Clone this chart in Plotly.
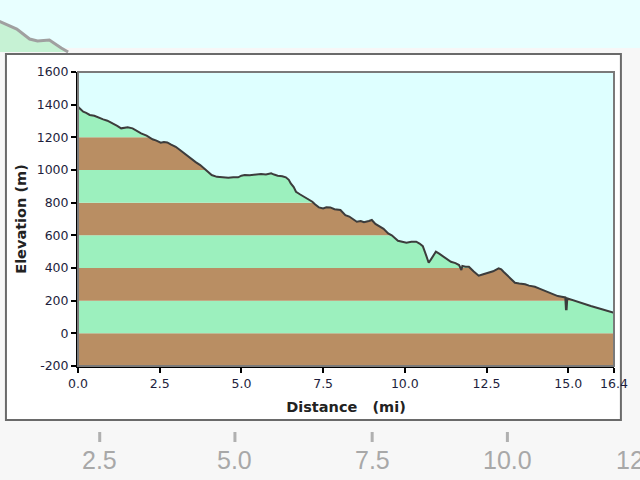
import plotly.graph_objects as go

# ---- data ----
distance_mi = [0.0, 0.08, 0.16, 0.25, 0.36, 0.5, 0.62, 0.77, 0.9, 1.07, 1.2, 1.32, 1.42, 1.52,
               1.67, 1.8, 1.93, 2.1, 2.28, 2.4, 2.53, 2.63, 2.73, 2.85, 2.99, 3.1, 3.24, 3.35,
               3.49, 3.6, 3.74, 3.89, 4.0, 4.09, 4.25, 4.40, 4.6, 4.75, 4.90, 5.0, 5.10, 5.25,
               5.41, 5.6, 5.75, 5.91, 6.0, 6.11, 6.25, 6.36, 6.45, 6.51, 6.6, 6.67, 6.8, 6.92,
               7.05, 7.17, 7.25, 7.37, 7.5, 7.6, 7.72, 7.85, 8.03, 8.1, 8.18, 8.3, 8.4, 8.53,
               8.65, 8.75, 8.9, 8.99, 9.1, 9.24, 9.35, 9.49, 9.6, 9.79, 9.9, 10.05, 10.2, 10.35,
               10.45, 10.55, 10.65, 10.73, 10.80, 10.88, 10.95, 11.05, 11.16, 11.3, 11.41,
               11.55, 11.66, 11.73, 11.76, 11.86, 11.96, 12.1, 12.26, 12.4, 12.57, 12.7, 12.87,
               12.95, 13.02, 13.2, 13.37, 13.5, 13.68, 13.8, 13.98, 14.1, 14.28, 14.45, 14.68,
               14.8, 14.91, 14.93, 14.95, 14.97, 15.1, 15.29, 15.5, 15.69, 15.9, 16.10, 16.25,
               16.40]
elevation_m = [1387, 1370, 1357, 1350, 1337, 1332, 1320, 1310, 1302, 1286, 1270, 1255, 1260, 1261,
               1255, 1240, 1224, 1210, 1188, 1180, 1167, 1172, 1169, 1155, 1142, 1125, 1102, 1085,
               1061, 1048, 1030, 1004, 985, 969, 958, 955, 952, 956, 955, 965, 969, 968,
               973, 975, 972, 980, 972, 965, 962, 955, 940, 918, 895, 867, 850, 836,
               825, 806, 790, 771, 765, 772, 771, 760, 755, 740, 724, 715, 700, 683,
               688, 680, 688, 694, 670, 653, 640, 612, 600, 567, 562, 555, 560, 561,
               550, 534, 479, 432, 453, 480, 500, 488, 473, 455, 438,
               430, 418, 388, 412, 408, 408, 380, 353, 362, 371, 380, 398,
               392, 377, 340, 310, 305, 300, 292, 285, 275, 261, 248, 228,
               224, 220, 147, 147, 214, 205, 193, 180, 167, 155, 143, 135,
               126]

band_edges = [-200, 0, 200, 400, 600, 800, 1000, 1200, 1400, 1600]
band_colors = ["#B98E63", "#9CF0BE"]  # brown, green (alternating from bottom)

y_ticks = [-200, 0, 200, 400, 600, 800, 1000, 1200, 1400, 1600]
y_tick_text = ["-200", "0", "200", "400", "600", "800", "1000", "1200", "1400", "1600"]
x_ticks = [0.0, 2.5, 5.0, 7.5, 10.0, 12.5, 15.0, 16.4]
x_tick_text = ["0.0", "2.5", "5.0", "7.5", "10.0", "12.5", "15.0", "16.4"]

bg_labels = ["2.5", "5.0", "7.5", "10.0", "12.5"]

# ---- geometry helpers (pixel -> paper) ----
W, H = 640, 480
L, R, T, B = 78, 19, 72, 114
PW, PH = W - L - R, H - T - B


def px(x):
    return (x - L) / PW


def py(y):
    return (H - B - y) / PH


fig = go.Figure()

# sky above the terrain
fig.add_trace(go.Scatter(
    x=distance_mi + [distance_mi[-1], distance_mi[0]],
    y=elevation_m + [band_edges[-1], band_edges[-1]],
    fill="toself", fillcolor="#DEFFFF", mode="none", hoverinfo="skip", showlegend=False))

# terrain line
fig.add_trace(go.Scatter(
    x=distance_mi, y=elevation_m, mode="lines",
    line=dict(color="#3C3C3C", width=2), hoverinfo="skip", showlegend=False))

shapes = []
# screenshot background
shapes.append(dict(type="rect", xref="paper", yref="paper", x0=px(-10), x1=px(650),
                   y0=py(490), y1=py(48), fillcolor="#F7F7F7", line=dict(width=0), layer="below"))
bg_path = (f"M {px(-5)},{py(20)} L {px(16)},{py(29)} L {px(29)},{py(39)} "
           f"L {px(37)},{py(41)} L {px(49)},{py(40)} L {px(61)},{py(48)} L {px(68)},{py(52)}")
shapes.append(dict(type="path", xref="paper", yref="paper",
                   path=bg_path + f" L {px(-5)},{py(52)} Z",
                   fillcolor="#C6F2D4", line=dict(width=0), layer="below"))
shapes.append(dict(type="path", xref="paper", yref="paper", path=bg_path,
                   line=dict(color="#A0A0A0", width=3), layer="below"))
# white panel
shapes.append(dict(type="rect", xref="paper", yref="paper", x0=px(5), x1=px(628),
                   y0=py(420), y1=py(54), fillcolor="#FFFFFF",
                   line=dict(color="#6A6A6A", width=2), layer="below"))
# faded background ticks
for xp in [100, 237, 376, 513]:
    shapes.append(dict(type="line", xref="paper", yref="paper", x0=px(xp), x1=px(xp),
                       y0=py(442), y1=py(432), line=dict(color="#B0B0B0", width=3), layer="below"))
# bands
for i in range(len(band_edges) - 1):
    shapes.append(dict(type="rect", xref="x", yref="y", x0=distance_mi[0], x1=distance_mi[-1],
                       y0=band_edges[i], y1=band_edges[i + 1],
                       fillcolor=band_colors[i % 2], line=dict(width=0), layer="below"))
# plot frame (gray)
shapes.append(dict(type="rect", xref="paper", yref="paper", x0=0, x1=1, y0=0, y1=1,
                   line=dict(color="#7A7A7A", width=2), layer="above"))

annotations = []
for lab, xp in zip(bg_labels, [100, 237, 376, 513, 648]):
    annotations.append(dict(text=lab, xref="paper", yref="paper", x=px(xp), y=py(460),
                            xanchor="center", yanchor="middle", showarrow=False,
                            font=dict(family="Liberation Sans, Arial", size=25, color="#A8A8A8")))

tick_font = dict(family="DejaVu Sans", size=12.5, color="#1E1E3C")
title_font = dict(family="DejaVu Sans", size=14.5, color="#222222")

fig.update_layout(
    width=W, height=H,
    margin=dict(l=L, r=R, t=T, b=B, pad=0),
    paper_bgcolor="#E8FFFF",
    plot_bgcolor="#DEFFFF",
    shapes=shapes,
    annotations=annotations,
    xaxis=dict(range=[0, 16.4], tickvals=x_ticks, ticktext=x_tick_text,
               showgrid=False, zeroline=False, showline=True, linecolor="#000000", linewidth=2,
               ticks="outside", ticklen=5, tickwidth=2, tickcolor="#000000",
               tickfont=tick_font,
               title=dict(text="<b>Distance   (mi)</b>", standoff=12, font=title_font)),
    yaxis=dict(range=[-200, 1600], tickvals=y_ticks, ticktext=y_tick_text,
               showgrid=False, zeroline=False, showline=True, linecolor="#000000", linewidth=2,
               ticks="outside", ticklen=5, tickwidth=2, tickcolor="#000000",
               tickfont=tick_font,
               title=dict(text="<b>Elevation (m)</b>", standoff=7, font=title_font)),
)

fig.write_html("out.html")
